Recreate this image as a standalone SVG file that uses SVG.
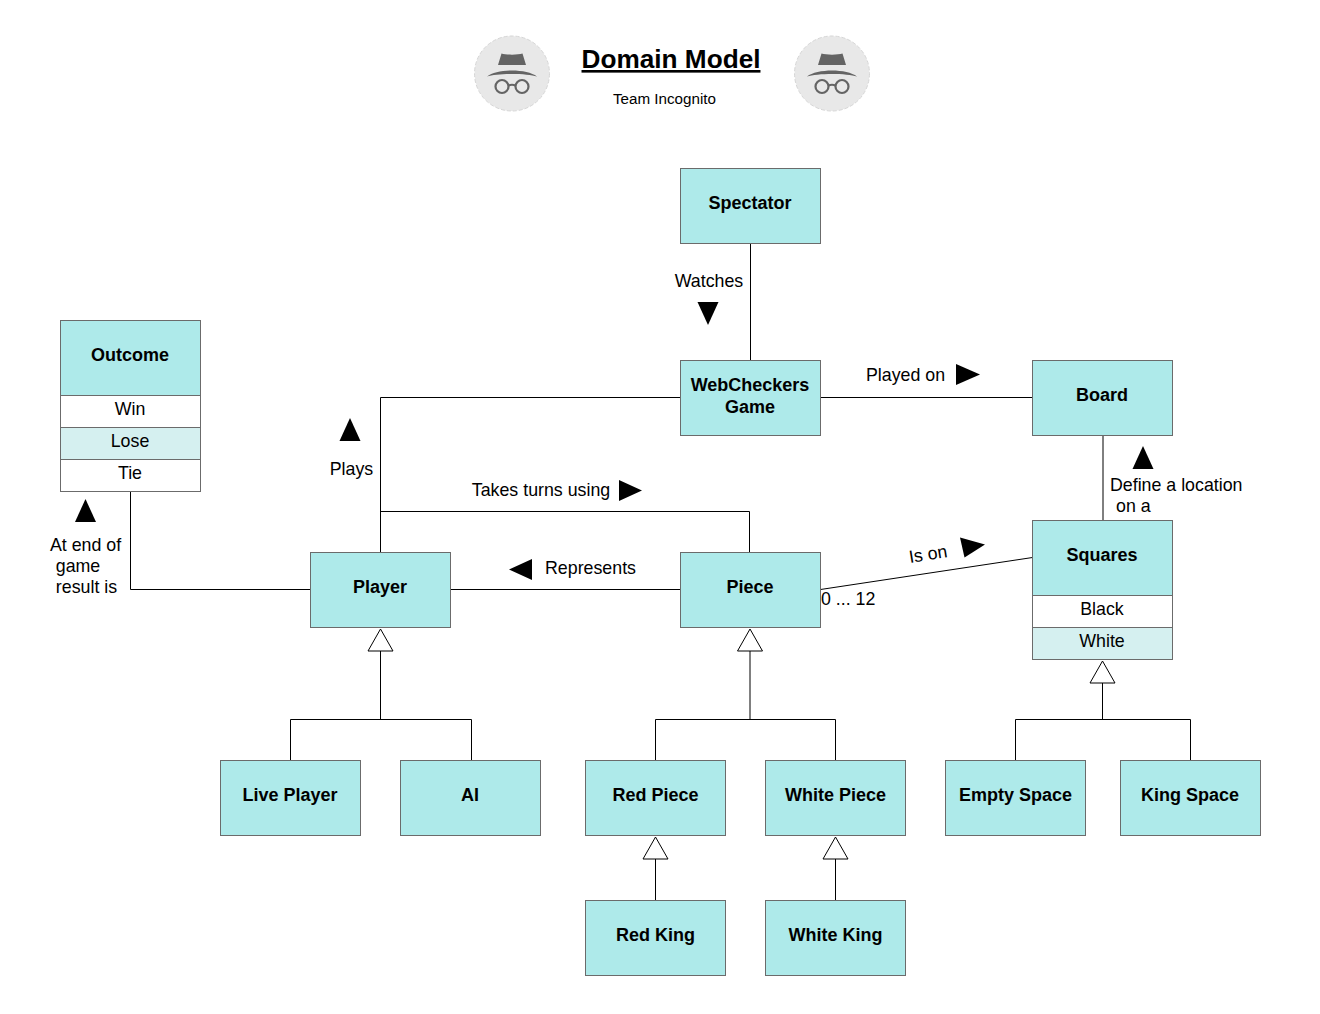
<svg xmlns="http://www.w3.org/2000/svg" xmlns:xlink="http://www.w3.org/1999/xlink" width="1320" height="1014" viewBox="0 0 1320 1014">
<style>
text{font-family:"Liberation Sans",Arial,sans-serif;fill:#000;text-anchor:middle}
.b{fill:#aeeaea;stroke:#6b6b6b;stroke-width:1}
.r{fill:#fff;stroke:#6b6b6b;stroke-width:1}
.a{fill:#d5f0f0;stroke:#6b6b6b;stroke-width:1}
.t{font-size:18px;font-weight:700}
.l{font-size:17.800px}
.s{text-anchor:start}
.c{fill:none;stroke:#000;stroke-width:1}
.h{fill:#fff;stroke:#000;stroke-width:1}
</style>
<defs>
<g id="inc">
<circle cx="0" cy="0" r="37.500" fill="#e8e8e8" stroke="#d6d6d6" stroke-width="1" stroke-dasharray="4 2"/>
<path d="M-14-8.500-10.500-20C-6-18.500 6-18.500 10.500-20L14-8.500Z" fill="#646464"/>
<path d="M-25 3C-15-5 15-5 25 3C15-.5-15-.5-25 3Z" fill="#646464"/>
<g fill="none" stroke="#646464" stroke-width="2.200"><circle cx="-10" cy="13" r="6.500"/><circle cx="10" cy="13" r="6.500"/><path d="M-3.500 12Q0 10.500 3.500 12"/></g>
</g>
</defs>
<rect width="1320" height="1014" fill="#fff"/>
<g id="header">
<use xlink:href="#inc" href="#inc" x="512" y="73.500"/>
<use xlink:href="#inc" href="#inc" x="832" y="73.500"/>
<text x="671" y="68" font-size="26.200" font-weight="700" text-decoration="underline">Domain Model</text>
<text x="664.500" y="104" font-size="15.200">Team Incognito</text>
</g>
<g id="connectors">
<path class="c" d="M750.500 243.500V360.500"/>
<path class="c" d="M820.500 397.500H1032.500"/>
<path class="c" d="M680.500 397.500H380.500V552.500"/>
<path class="c" d="M380.500 511.500H749.500V552.500"/>
<path class="c" d="M1103 435.500V520.500"/>
<path class="c" d="M820.500 589.500L1032.500 557.500"/>
<path class="c" d="M450.500 589.500H680.500"/>
<path class="c" d="M130.500 491.500V589.500H310.500"/>
<path class="c" d="M380.500 651V719.500M290.500 760.500V719.500H471.500V760.500"/>
<path class="c" d="M750 651V719.500M655.500 760.500V719.500H835.500V760.500"/>
<path class="c" d="M1102.500 683V719.500M1015.500 760.500V719.500H1190.500V760.500"/>
<path class="c" d="M655.500 859V900.500"/>
<path class="c" d="M835.500 859V900.500"/>
<path class="h" d="M380.500 629L393 651H368Z"/>
<path class="h" d="M750 629L762.500 651H737.500Z"/>
<path class="h" d="M1102.500 661L1115 683H1090Z"/>
<path class="h" d="M655.500 837L668 859H643Z"/>
<path class="h" d="M835.500 837L848 859H823Z"/>
</g>
<g id="arrows" fill="#000">
<path d="M697.500 302H718.500L708 325Z"/>
<path d="M956 364V385L980 374.500Z"/>
<path d="M350 418L360.500 441H339.500Z"/>
<path d="M619 480V501L642 490.500Z"/>
<path d="M1143 446L1153.500 469H1132.500Z"/>
<path d="M960 537.500L985 544.500L964.500 557.500Z"/>
<path d="M532 559V580L509 569.500Z"/>
<path d="M85.500 499L96 522H75Z"/>
</g>
<g id="labels">
<text class="l" x="709" y="287">Watches</text>
<text class="l" x="905.500" y="381">Played on</text>
<text class="l" x="351.500" y="475">Plays</text>
<text class="l" x="541" y="496">Takes turns using</text>
<text class="l s" x="1110" y="491">Define a location</text>
<text class="l s" x="1116" y="512">on a</text>
<text class="l" x="928" y="560" transform="rotate(-9 928 554)">Is on</text>
<text class="l s" x="821" y="605">0 ... 12</text>
<text class="l" x="590.500" y="574">Represents</text>
<text class="l" x="85.500" y="551">At end of</text>
<text class="l" x="78" y="572">game</text>
<text class="l" x="86.500" y="593">result is</text>
</g>
<g id="spectator"><rect class="b" x="680.500" y="168.500" width="140" height="75"/><text class="t" x="750" y="209">Spectator</text></g>
<g id="webcheckers-game"><rect class="b" x="680.500" y="360.500" width="140" height="75"/><text class="t" x="750" y="391">WebCheckers</text><text class="t" x="750" y="413">Game</text></g>
<g id="board"><rect class="b" x="1032.500" y="360.500" width="140" height="75"/><text class="t" x="1102" y="400.500">Board</text></g>
<g id="outcome"><rect class="b" x="60.500" y="320.500" width="140" height="75"/><text class="t" x="130" y="360.500">Outcome</text>
<rect class="r" x="60.500" y="395.500" width="140" height="32"/><text class="l" x="130" y="415">Win</text>
<rect class="a" x="60.500" y="427.500" width="140" height="32"/><text class="l" x="130" y="447">Lose</text>
<rect class="r" x="60.500" y="459.500" width="140" height="32"/><text class="l" x="130" y="479">Tie</text></g>
<g id="player"><rect class="b" x="310.500" y="552.500" width="140" height="75"/><text class="t" x="380" y="592.500">Player</text></g>
<g id="piece"><rect class="b" x="680.500" y="552.500" width="140" height="75"/><text class="t" x="750" y="592.500">Piece</text></g>
<g id="squares"><rect class="b" x="1032.500" y="520.500" width="140" height="75"/><text class="t" x="1102" y="560.500">Squares</text>
<rect class="r" x="1032.500" y="595.500" width="140" height="32"/><text class="l" x="1102" y="615">Black</text>
<rect class="a" x="1032.500" y="627.500" width="140" height="32"/><text class="l" x="1102" y="647">White</text></g>
<g id="live-player"><rect class="b" x="220.500" y="760.500" width="140" height="75"/><text class="t" x="290" y="800.500">Live Player</text></g>
<g id="ai"><rect class="b" x="400.500" y="760.500" width="140" height="75"/><text class="t" x="470" y="800.500">AI</text></g>
<g id="red-piece"><rect class="b" x="585.500" y="760.500" width="140" height="75"/><text class="t" x="655.500" y="800.500">Red Piece</text></g>
<g id="white-piece"><rect class="b" x="765.500" y="760.500" width="140" height="75"/><text class="t" x="835.500" y="800.500">White Piece</text></g>
<g id="empty-space"><rect class="b" x="945.500" y="760.500" width="140" height="75"/><text class="t" x="1015.500" y="800.500">Empty Space</text></g>
<g id="king-space"><rect class="b" x="1120.500" y="760.500" width="140" height="75"/><text class="t" x="1190" y="800.500">King Space</text></g>
<g id="red-king"><rect class="b" x="585.500" y="900.500" width="140" height="75"/><text class="t" x="655.500" y="940.500">Red King</text></g>
<g id="white-king"><rect class="b" x="765.500" y="900.500" width="140" height="75"/><text class="t" x="835.500" y="940.500">White King</text></g>
</svg>
